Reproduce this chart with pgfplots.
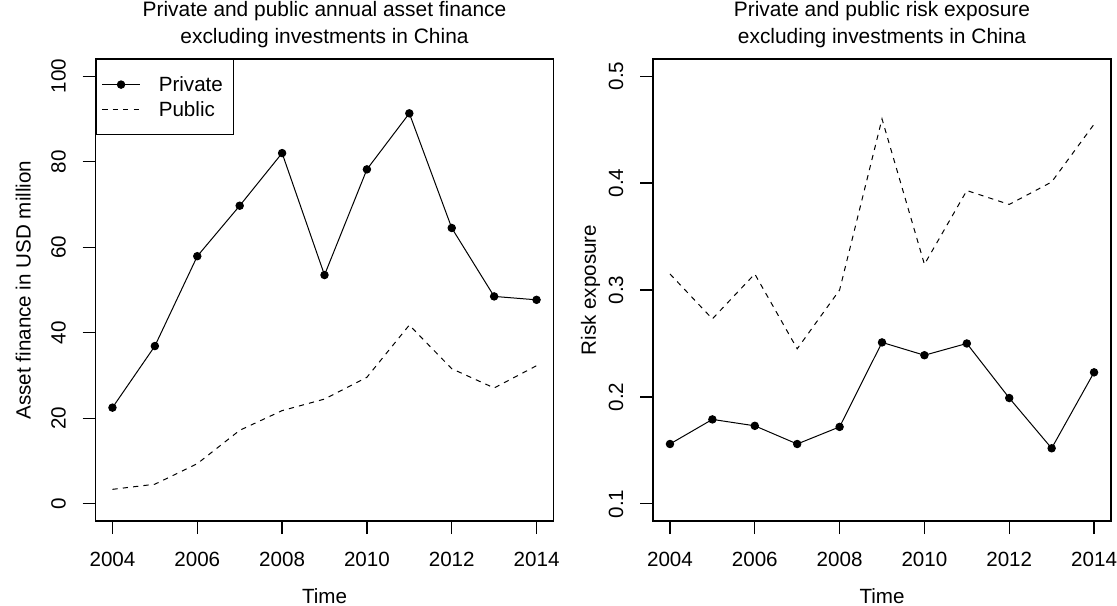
\documentclass[border=0pt]{standalone}
\usepackage{fontspec}
\setmainfont{Liberation Sans}
\usepackage{pgfplots}
\pgfplotsset{compat=1.18}

% R base-graphics look: box, outward ticks on left/bottom, rotated y tick labels
\pgfplotsset{
  rplot/.style={
    scale only axis,
    width=229pt, height=231pt,
    xmin=2003.6, xmax=2014.4,
    xtick={2004,2006,...,2014},
    axis line style={line width=0.6pt},
    tick align=outside,
    xtick pos=bottom, ytick pos=left,
    major tick length=6.5pt,
    tick style={line width=0.6pt, black},
    /pgf/number format/assume math mode=true,
    /pgf/number format/1000 sep={},
    ticklabel style={font=\fontsize{10.3}{12.4}\selectfont, inner sep=0pt},
    xticklabel style={anchor=base, yshift=-16pt},
    yticklabel style={xshift=-8.5pt, rotate=90, anchor=base},
    every axis x label/.style={at={(rel axis cs:0.5,0)}, anchor=base,
      yshift=-41.15pt, inner sep=0pt, font=\fontsize{10.3}{12.4}\selectfont},
    title style={at={(rel axis cs:0.5,1)}, anchor=south, yshift=-0.7pt,
      align=center, inner sep=0pt, font=\fontsize{10.45}{13.35}\selectfont},
    xlabel={Time},
  },
  privline/.style={black, line width=0.5pt, mark=*, mark size=1.85pt,
    mark options={solid, fill=black}},
  publine/.style={black, line width=0.5pt, dash pattern=on 2.6pt off 2.6pt},
}

\pgfplotstableread{
year  private  public
2004  22.5     3.4
2005  36.9     4.6
2006  57.9     9.4
2007  69.7     17.2
2008  82.0     21.8
2009  53.5     24.5
2010  78.2     29.6
2011  91.3     41.8
2012  64.5     31.6
2013  48.5     27.1
2014  47.7     32.3
}\finance

\pgfplotstableread{
year  private  public
2004  0.156    0.315
2005  0.179    0.273
2006  0.173    0.315
2007  0.156    0.245
2008  0.172    0.300
2009  0.251    0.460
2010  0.239    0.324
2011  0.250    0.393
2012  0.199    0.380
2013  0.152    0.401
2014  0.223    0.455
}\risk

\begin{document}
\begin{tikzpicture}
\useasboundingbox (0,0) rectangle (558.5pt,302.5pt);

\begin{axis}[rplot,
    at={(47.75pt,42pt)}, anchor=south west,
    ymin=-4, ymax=104,
    ytick={0,20,...,100},
    title={Private and public annual asset finance\\excluding investments in China},
    every axis y label/.style={at={(rel axis cs:0,0.5)}, xshift=-32.5pt,
      rotate=90, anchor=base, inner sep=0pt, font=\fontsize{10.3}{12.4}\selectfont},
    ylabel={Asset finance in USD million},
    legend style={at={(rel axis cs:0,1)}, anchor=north west,
      draw=black, line width=0.6pt, inner xsep=2.85pt, inner ysep=6.25pt,
      row sep=0pt, column sep=9.25pt,
      font=\fontsize{10.3}{12.4}\selectfont,
      nodes={inner sep=0pt, text height=9.8pt, text depth=2.7pt}},
    legend cell align=left,
    legend image code/.code={%
      \draw[mark repeat=2, mark phase=2, #1]
        plot coordinates {(0pt,0pt) (9.375pt,0pt) (18.75pt,0pt)};},
  ]
  \addplot[privline] table[x=year, y=private] {\finance};
  \addlegendentry{Private\hspace*{2.5pt}}
  \addplot[publine] table[x=year, y=public] {\finance};
  \addlegendentry{Public}
\end{axis}

\begin{axis}[rplot,
    at={(326.5pt,42pt)}, anchor=south west,
    ymin=0.084, ymax=0.516,
    ytick={0.1,0.2,0.3,0.4,0.5},
    title={Private and public risk exposure\\excluding investments in China},
    every axis y label/.style={at={(rel axis cs:0,0.5)}, xshift=-28.6pt,
      rotate=90, anchor=base, inner sep=0pt, font=\fontsize{10.3}{12.4}\selectfont},
    ylabel={Risk exposure},
  ]
  \addplot[privline] table[x=year, y=private] {\risk};
  \addplot[publine] table[x=year, y=public] {\risk};
\end{axis}
\end{tikzpicture}
\end{document}
